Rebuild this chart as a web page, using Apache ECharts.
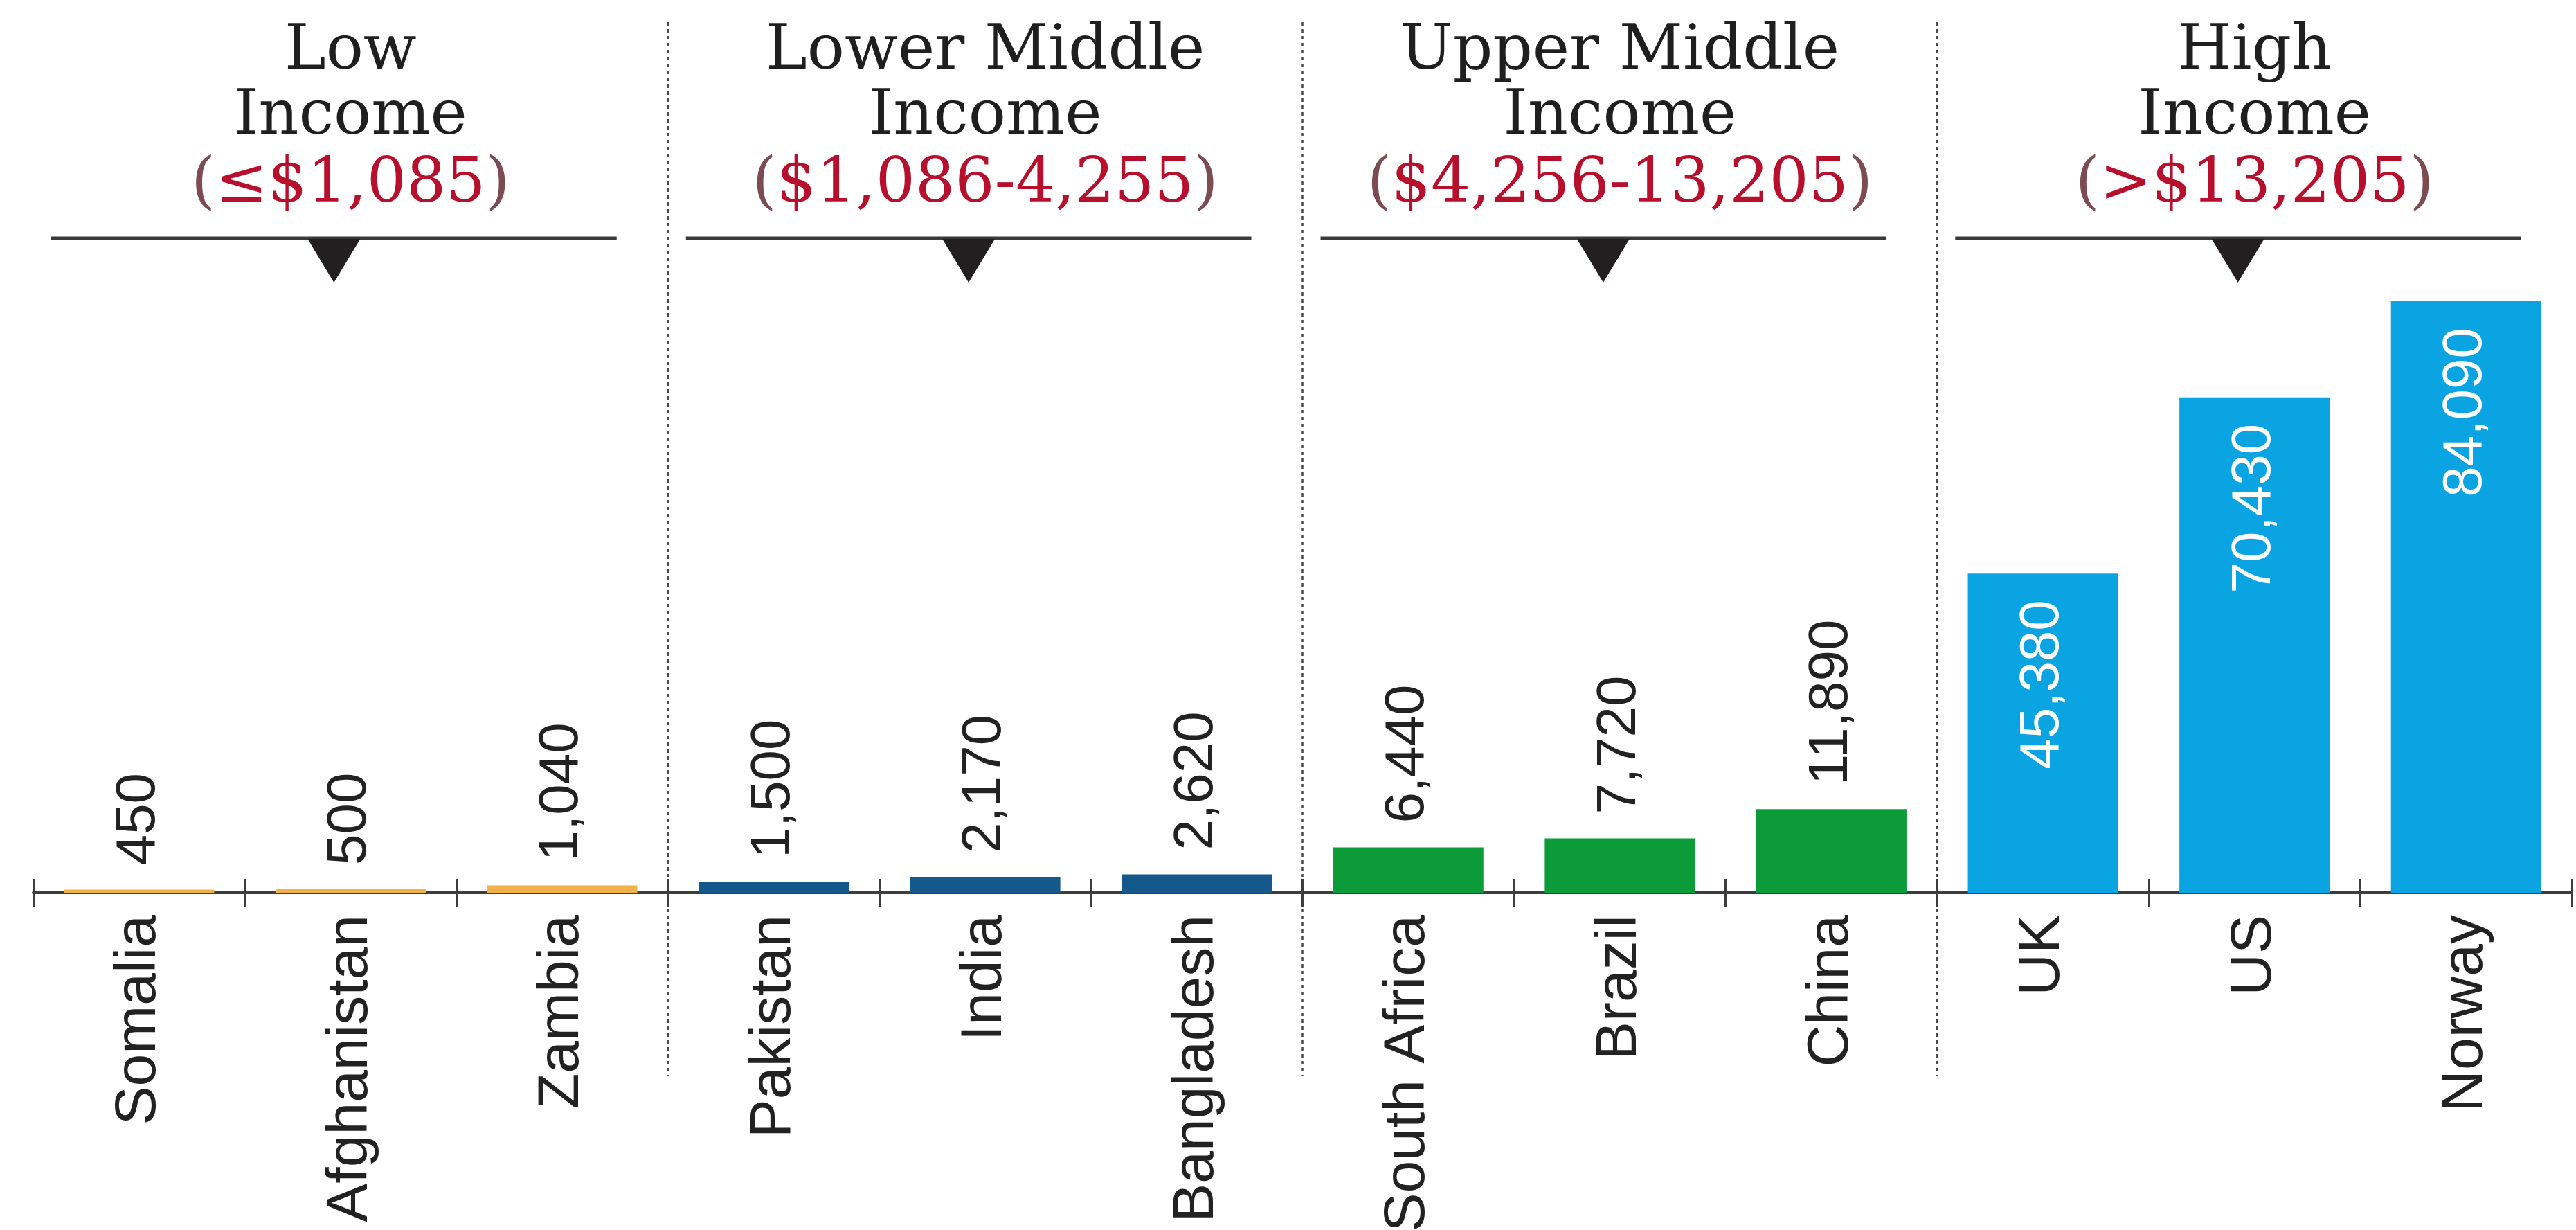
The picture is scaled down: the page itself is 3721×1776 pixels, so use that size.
<!DOCTYPE html>
<html><head><meta charset="utf-8">
<script src="https://cdn.jsdelivr.net/npm/echarts@6/dist/echarts.min.js"></script>
<style>html,body{margin:0;padding:0;background:#fff}#c{width:3721px;height:1776px}</style>
</head><body><div id="c"></div>
<script>
// ---- data ----
const countries = ['Somalia','Afghanistan','Zambia','Pakistan','India','Bangladesh','South Africa','Brazil','China','UK','US','Norway'];
const gniPerCapita = [450,500,1040,1500,2170,2620,6440,7720,11890,45380,70430,84090];
const countryGroup = [0,0,0,1,1,1,2,2,2,3,3,3];
const groupTitles = ['Low\nIncome','Lower Middle\nIncome','Upper Middle\nIncome','High\nIncome'];
const groupRanges = ['≤$1,085','$1,086-4,255','$4,256-13,205','>$13,205'];

// ---- style ----
const groupColors = ['#f2b24a','#15598c','#0c9b39','#0aa4e3'];
const insideLabelGroups = [3];
const NARROW = "'Liberation Sans',Arial,sans-serif";
const HEAD = "'DejaVu Serif',serif";
const INK = '#222222';

const chart = echarts.init(document.getElementById('c'), null, {renderer:'canvas'});

const seriesData = gniPerCapita.map((v,i)=>{
  const g = countryGroup[i];
  const item = {value:v, itemStyle:{color:groupColors[g]}};
  if (insideLabelGroups.includes(g)) {
    item.label = {position:'insideTop', align:'right', verticalAlign:'middle', color:'#ffffff', distance:38};
  }
  return item;
});

chart.setOption({
  animation:false,
  backgroundColor:'#ffffff',
  grid:{left:48, right:6, top:375, bottom:487, outerBoundsMode:'none', containLabel:false},
  xAxis:[{
    type:'category', data:countries, position:'bottom',
    axisLine:{show:true, lineStyle:{color:'#3d3d3d', width:4}},
    axisTick:{show:true, length:20, lineStyle:{color:'#3d3d3d', width:3}},
    axisLabel:{rotate:90, margin:32, fontSize:84, fontFamily:NARROW, color:INK, interval:0},
    splitLine:{show:false}
  },{
    type:'category', data:countries, position:'bottom',
    axisLine:{show:false},
    axisTick:{show:true, inside:true, length:20, lineStyle:{color:'#3d3d3d', width:3}},
    axisLabel:{show:false},
    splitLine:{show:false}
  }],
  yAxis:{type:'value', min:0, max:90000, show:false, splitLine:{show:false}},
  series:[{
    type:'bar', xAxisIndex:0, barWidth:'71%', data:seriesData, z:3,
    label:{show:true, position:'top', rotate:90, align:'left', verticalAlign:'middle', distance:35,
      fontSize:80, fontFamily:NARROW, color:INK,
      formatter:p=>Number(p.value).toLocaleString('en-US')}
  }]
});

// ---- group headers & dividers, positioned from the category axis ----
const px = i => chart.convertToPixel({xAxisIndex:0}, i);
const band = px(1) - px(0);
const nGroups = groupTitles.length;
const graphics = [];
for (let g = 0; g < nGroups; g++) {
  const idx = countryGroup.map((cg,i)=>cg===g?i:-1).filter(i=>i>=0);
  const start = px(idx[0]) - band/2;
  const end = px(idx[idx.length-1]) + band/2;
  const center = (start+end)/2;
  const x1 = start + 26, x2 = end - 74, lc = (x1+x2)/2;
  graphics.push({type:'text', x:center, y:123, style:{text:groupTitles[g], fontSize:90, lineHeight:94,
    fontFamily:HEAD, fill:'#1f1f1f', align:'center', verticalAlign:'middle'}});
  graphics.push({type:'text', x:center, y:268, style:{text:'{p|(}{r|'+groupRanges[g]+'}{p|)}',
    fontSize:90, fontFamily:HEAD, align:'center', verticalAlign:'middle',
    rich:{p:{fill:'#7d4b52', fontSize:90, fontFamily:HEAD}, r:{fill:'#b8102c', fontSize:90, fontFamily:HEAD}}}});
  graphics.push({type:'line', shape:{x1:x1, y1:344, x2:x2, y2:344}, style:{stroke:'#3a3a3a', lineWidth:5}});
  graphics.push({type:'polygon', shape:{points:[[lc-38,345],[lc+38,345],[lc,408]]}, style:{fill:'#231f20'}});
  if (g < nGroups-1) {
    const bx = end;
    graphics.push({type:'line', shape:{x1:bx, y1:32, x2:bx, y2:1554}, style:{stroke:'#4a4a4a', lineWidth:2.5, lineDash:[5,5]}, z:-1});
  }
}
chart.setOption({graphic:graphics});
</script></body></html>
